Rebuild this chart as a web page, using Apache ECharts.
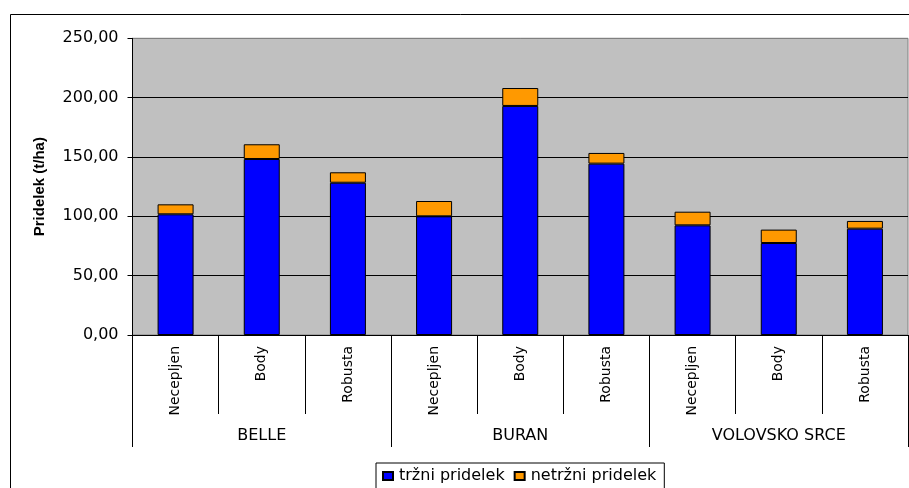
<!DOCTYPE html>
<html>
<head>
<meta charset="utf-8">
<script src="https://cdn.jsdelivr.net/npm/echarts@6/dist/echarts.min.js"></script>
<style>html,body{margin:0;padding:0;background:#fff;}#c{width:909px;height:488px;}</style>
</head>
<body>
<div id="c"></div>
<script>
const categories = ['Necepljen','Body','Robusta','Necepljen','Body','Robusta','Necepljen','Body','Robusta'];
const groups = ['BELLE','BURAN','VOLOVSKO SRCE'];
const trzni = [101.7, 148.3, 128.3, 100.0, 193.0, 144.4, 92.4, 77.5, 89.6];
const netrzni = [8.4, 12.4, 8.8, 12.9, 15.1, 9.0, 11.5, 11.3, 6.5];
const seriesNames = ['tržni pridelek', 'netržni pridelek'];
const yTicks = [0, 50, 100, 150, 200, 250];

const chart = echarts.init(document.getElementById('c'), null, {renderer:'canvas'});
const fontH = 'DejaVu Sans';
chart.setOption({
  animation: false,
  backgroundColor: '#fff',
  graphic: [{
    type: 'rect', shape: {x: 10.5, y: 14.5, width: 910, height: 490},
    style: {fill: 'none', stroke: '#000', lineWidth: 1}, z: -10, silent: true
  }],
  grid: {left: 132.5, right: 1, top: 38.3, bottom: 153, show: true,
         backgroundColor: '#C0C0C0', borderColor: '#808080', borderWidth: 1},
  legend: {
    data: seriesNames, left: 376, top: 463, orient: 'horizontal',
    padding: [5, 8, 5, 6], itemGap: 9, itemWidth: 10, itemHeight: 8,
    borderColor: '#000', borderWidth: 1, backgroundColor: '#fff',
    icon: 'rect',
    textStyle: {fontFamily: fontH, fontSize: 16, color: '#000', padding: [0,0,0,1]}
  },
  xAxis: [{
    type: 'category', data: categories, position: 'bottom',
    axisLine: {show: true, lineStyle: {color: '#000', width: 1}},
    axisTick: {show: true, length: 79, alignWithLabel: false, lineStyle: {color: '#000'}},
    axisLabel: {rotate: 90, margin: 11, interval: 0, fontFamily: fontH, fontSize: 14, color: '#000'},
    splitLine: {show: false}
  }, {
    type: 'category', data: groups, position: 'bottom', offset: 79,
    axisLine: {show: false},
    axisTick: {show: true, length: 33, alignWithLabel: false, lineStyle: {color: '#000'}},
    axisLabel: {margin: 14, interval: 0, fontFamily: fontH, fontSize: 16, color: '#000'},
    splitLine: {show: false}
  }],
  yAxis: {
    type: 'value', min: yTicks[0], max: yTicks[yTicks.length-1], interval: yTicks[1]-yTicks[0],
    name: 'Pridelek (t/ha)', nameLocation: 'middle', nameGap: 85,
    nameTextStyle: {fontFamily: 'Liberation Sans', fontSize: 15, fontWeight: 'bold', color: '#000'},
    axisLine: {show: true, lineStyle: {color: '#000', width: 1}},
    axisTick: {show: true, length: 5, lineStyle: {color: '#000'}},
    axisLabel: {margin: 14, fontFamily: fontH, fontSize: 16, color: '#000',
      formatter: v => v.toFixed(2).replace('.', ',')},
    splitLine: {show: true, lineStyle: {color: ['#000','#000','#000','#000','#000','#808080'], width: 1}}
  },
  series: [{
    name: seriesNames[0], type: 'bar', stack: 's', data: trzni, barWidth: 36,
    itemStyle: {color: '#0000FF', borderColor: '#000', borderWidth: 1}
  }, {
    name: seriesNames[1], type: 'bar', stack: 's', data: netrzni, barWidth: 36,
    itemStyle: {color: '#FF9900', borderColor: '#000', borderWidth: 1}
  }]
});
</script>
</body>
</html>
